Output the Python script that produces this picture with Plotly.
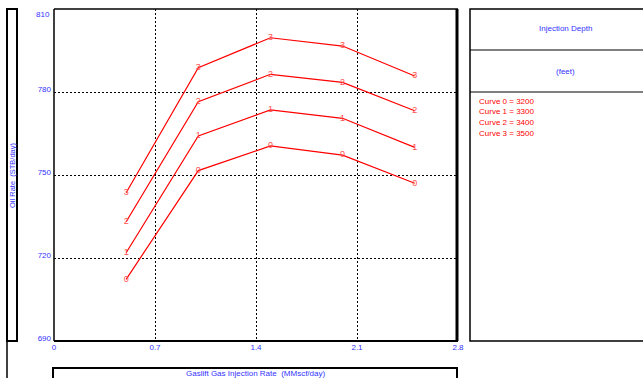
import plotly.graph_objects as go

gas_rate = [0.5, 1.0, 1.5, 2.0, 2.5]
curve_names = ["0", "1", "2", "3"]
depths = [3200, 3300, 3400, 3500]
oil_rate = {
    "0": [712.3, 751.6, 760.5, 757.2, 747.0],
    "1": [721.9, 764.1, 773.5, 770.5, 760.0],
    "2": [733.1, 776.5, 786.4, 783.5, 773.2],
    "3": [743.6, 788.8, 799.6, 796.6, 785.8],
}
x_ticks = [0, 0.7, 1.4, 2.1, 2.8]
y_ticks = [690, 720, 750, 780, 810]

W, H = 643, 378
L, R, T, B = 54, 458, 9, 341

def px(x):
    return (x - L) / (R - L)

def py(y):
    return (B - y) / (B - T)

BLUE = "#3333ff"
RED = "#ff0000"
FONT = "Liberation Sans, Arial, sans-serif"

fig = go.Figure()
for name in curve_names:
    fig.add_trace(go.Scatter(
        x=gas_rate, y=oil_rate[name], mode="lines+text",
        text=[name] * len(gas_rate), textposition="middle center",
        textfont=dict(size=9, color="#ff5050", family=FONT),
        line=dict(color=RED, width=1.2), showlegend=False, cliponaxis=False,
    ))

# top tick label sits just below the frame edge, as in the reference
y_ticktext = [str(v) if v != y_ticks[-1] else "" for v in y_ticks]

fig.update_layout(
    template="none",
    width=W, height=H, autosize=False,
    margin=dict(l=L, r=W - R, t=T, b=H - B, pad=0, autoexpand=False),
    paper_bgcolor="white", plot_bgcolor="white",
    font=dict(family=FONT, size=8, color=BLUE),
    xaxis=dict(range=[0, 2.8], tickvals=x_ticks, ticktext=[str(v) for v in x_ticks],
               showgrid=True, gridcolor="black", griddash="2px,2px", gridwidth=1,
               zeroline=False, showline=False, ticks="", automargin=False,
               tickfont=dict(size=8, color=BLUE)),
    yaxis=dict(range=[690, 810], tickvals=y_ticks, ticktext=y_ticktext,
               showgrid=True, gridcolor="black", griddash="2px,2px", gridwidth=1,
               zeroline=False, showline=False, ticks="", ticklabelstandoff=2,
               ticklabelshift=-3, automargin=False, tickfont=dict(size=8, color=BLUE)),
)

shapes = []
def rect(x0, y0, x1, y1, w=1, color="black"):
    shapes.append(dict(type="rect", xref="paper", yref="paper",
                       x0=px(x0), x1=px(x1), y0=py(y0), y1=py(y1),
                       line=dict(color=color, width=w), fillcolor="rgba(0,0,0,0)", layer="above"))

def line(x0, y0, x1, y1, w=1, color="black"):
    shapes.append(dict(type="line", xref="paper", yref="paper",
                       x0=px(x0), x1=px(x1), y0=py(y0), y1=py(y1),
                       line=dict(color=color, width=w), layer="above"))

# plot border
line(L, T, R, T, 1.5)
line(L, T, L, B, 1.5)
line(L, B, R, B, 2)
line(R - 1, T, R - 1, B, 3)
# y title box
rect(7, 9, 17, 341, 2)
line(7, 341, 7, 380, 1.5)
# x title box
rect(53, 368, 457, 390, 2)
# right panel
rect(470, 9, 660, 341, 1.5)
line(470, 50, 643, 50, 1)
line(470, 92, 643, 92, 1)
fig.update_layout(shapes=shapes)

def note(x, y, text, color=BLUE, xanchor="center", angle=0, size=8):
    return dict(x=px(x), y=py(y), xref="paper", yref="paper", text=text,
                textangle=angle, showarrow=False, xanchor=xanchor, yanchor="middle",
                font=dict(size=size, color=color))

ann = [
    note(12, 175, "Oil Rate  (STB/day)", angle=-90, size=7.5),
    note(255, 373, "Gaslift Gas Injection Rate  (MMscf/day)"),
    note(565, 29, "Injection Depth"),
    note(565, 71, "(feet)"),
    dict(x=0, xref="paper", y=y_ticks[-1], yref="y", text=str(y_ticks[-1]),
         showarrow=False, xanchor="right", yanchor="middle", xshift=-2, yshift=-5,
         font=dict(size=8, color=BLUE)),
]
for i, (name, d) in enumerate(zip(curve_names, depths)):
    ann.append(note(477, 101 + i * 10.9, f"Curve {name} = {d}", color=RED, xanchor="left"))
fig.update_layout(annotations=ann)

fig.write_html("out.html", config={"displayModeBar": False},
               post_script="document.body.style.margin='0';document.body.style.padding='0';")
